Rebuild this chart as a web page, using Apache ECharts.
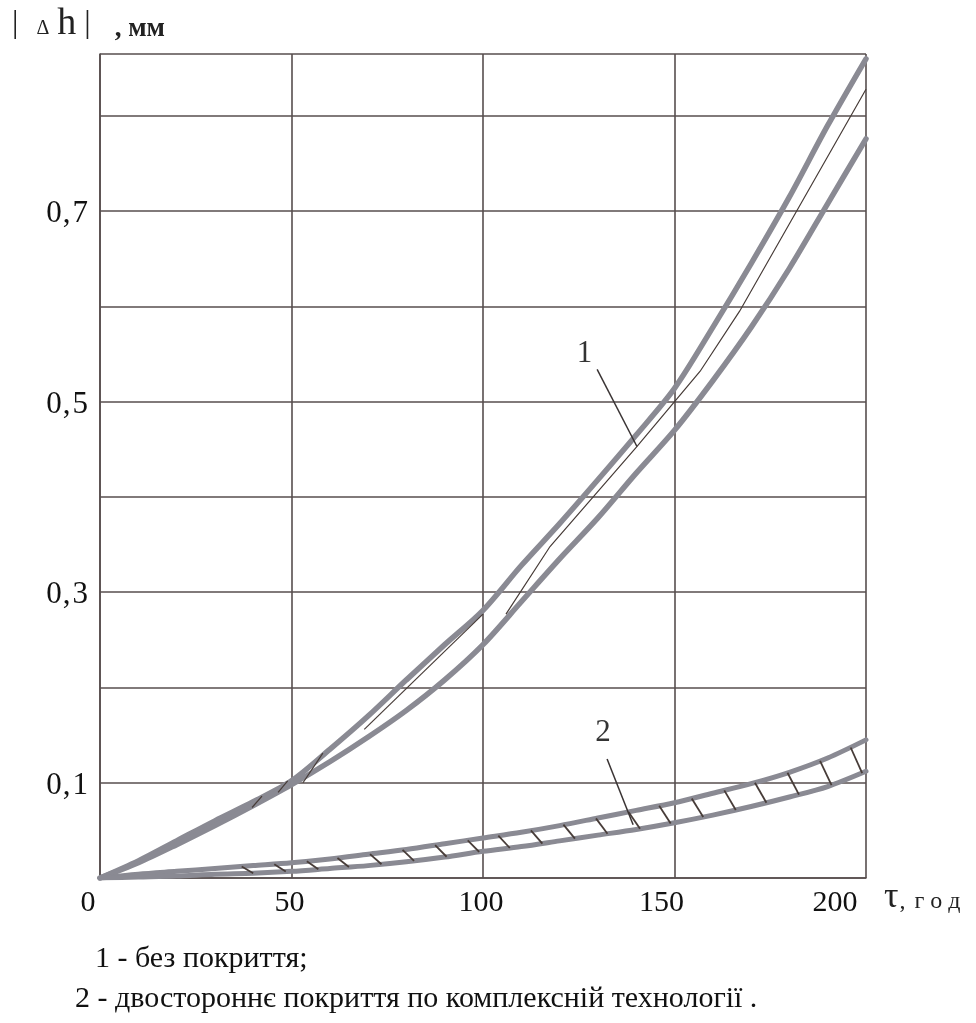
<!DOCTYPE html>
<html>
<head>
<meta charset="utf-8">
<script src="https://cdn.jsdelivr.net/npm/echarts@6/dist/echarts.min.js"></script>
<style>html,body{margin:0;padding:0;background:#fff;}#c{width:976px;height:1023px;}</style>
</head>
<body>
<div id="c"></div>
<script>
// ---- data ----
const tau = [0,10,20,30,40,50,60,70,80,90,100,110,120,130,140,150,160,170,180,190,200];
const curve1Upper = [0,0.018,0.039,0.060,0.080,0.102,0.135,0.170,0.208,0.245,0.281,0.328,0.372,0.418,0.465,0.514,0.578,0.645,0.715,0.790,0.860];
const curve1Lower = [0,0.016,0.035,0.055,0.076,0.098,0.122,0.148,0.176,0.208,0.245,0.290,0.335,0.378,0.425,0.470,0.522,0.578,0.640,0.708,0.776];
const curve2Upper = [0,0.004,0.007,0.010,0.013,0.016,0.020,0.025,0.030,0.036,0.042,0.048,0.055,0.063,0.071,0.079,0.089,0.099,0.111,0.126,0.145];
const curve2Lower = [0,0.001,0.002,0.004,0.005,0.007,0.010,0.013,0.017,0.022,0.028,0.033,0.039,0.045,0.051,0.058,0.066,0.075,0.085,0.096,0.112];
// thin inner line of curve 1 (pieces)
const curve1Thin = [
  [[39.7,0.074],[42.3,0.086]],
  [[46.5,0.090],[49,0.102]],
  [[53,0.100],[58.2,0.131]],
  [[69,0.156],[100,0.277]],
  [[106,0.277],[117.5,0.348],[140,0.452],[156.7,0.532],[167,0.595],[200,0.828]]
];
// hatching of curve 2: [tau1, v1, tau2, v2]
const curve2Hatch = [
  [37,0.012,40,0.005],[45.5,0.0145,48.5,0.0067],[54,0.0176,57,0.0091],[62,0.021,65,0.0115],
  [70.5,0.025,73.5,0.0144],[79,0.0295,82,0.018],[87.5,0.0345,90.5,0.0223],[96,0.0395,99,0.0274],
  [104,0.0445,107,0.0315],[112.5,0.050,115.5,0.036],[121,0.056,124,0.0414],[129.5,0.0626,132.5,0.0465],
  [138,0.0694,141,0.0517],[146,0.0758,149,0.0573],[154.5,0.0835,157.5,0.064],[163,0.092,166,0.0714],
  [171,0.100,174,0.079],[179.5,0.1105,182.5,0.0875],[188,0.123,191,0.0976],[196,0.137,199,0.110]
];
const leader1 = [[129.8,0.534],[140.2,0.453]];
const leader2 = [[132.4,0.125],[139.2,0.056]];
const label1Pos = [126.5,0.55];
const label2Pos = [131.3,0.152];
const yTickLabels = ['0,1','0,3','0,5','0,7'];
const caption1 = '1 - без покриття;';
const caption2 = '2 - двостороннє покриття по комплексній технології .';

// ---- chart ----
const FONT = '"Liberation Serif", "DejaVu Serif", serif';
const GRID = '#574e4e';
const CURVE = '#8a8a93';
const THIN = '#473c38';
const zip = (xs, ys) => xs.map((x, i) => [x, ys[i]]);

const chart = echarts.init(document.getElementById('c'), null, {renderer: 'canvas'});

function thickLine(name, ys, w) {
  return {
    name, type: 'line', data: zip(tau, ys), smooth: 0.3, symbol: 'none',
    lineStyle: {color: CURVE, width: w, cap: 'round'}, z: 3, animation: false
  };
}

chart.setOption({
  animation: false,
  backgroundColor: '#fff',
  grid: {left: 100, right: 110, top: 54, bottom: 145, containLabel: false},
  xAxis: {
    type: 'value', min: 0, max: 200, interval: 50,
    axisLine: {show: true, lineStyle: {color: GRID, width: 1.6}},
    axisTick: {show: false},
    splitLine: {show: true, lineStyle: {color: GRID, width: 1.6}},
    axisLabel: {
      margin: 10, color: '#111', fontFamily: FONT, fontSize: 30,
      formatter: function (v) {
        if (v === 0) return '{l|0}';
        if (v === 50) return '{m|50}';
        if (v === 100) return '{m|100}';
        if (v === 150) return '{n|150}';
        if (v === 200) return '{r|200}';
        return '';
      },
      rich: {
        l: {padding: [0, 24, 0, 0]},
        m: {padding: [0, 4, 0, 0]},
        n: {padding: [0, 26, 0, 0]},
        r: {padding: [0, 62, 0, 0]}
      }
    }
  },
  yAxis: {
    type: 'value', min: 0, max: 0.865, interval: 0.1,
    axisLine: {show: true, lineStyle: {color: GRID, width: 1.6}},
    axisTick: {show: false},
    splitLine: {show: true, lineStyle: {color: GRID, width: 1.6}},
    axisLabel: {
      margin: 12, color: '#111', fontFamily: FONT, fontSize: 31,
      formatter: function (v) {
        const k = Math.round(v * 10);
        if (Math.abs(v * 10 - k) > 1e-6) return '';
        const idx = [1, 3, 5, 7].indexOf(k);
        if (idx < 0) return '';
        const parts = yTickLabels[idx].split(',');
        return '{d|' + parts[0] + '}{c|,}{d|' + parts[1] + '}';
      },
      rich: {
        d: {fontFamily: FONT, fontSize: 31, color: '#111', padding: [6, 0, 0, 0]},
        c: {fontFamily: FONT, fontSize: 31, color: '#111', padding: [6, 2, 0, 1]}
      }
    }
  },
  series: [
    thickLine('curve1Upper', curve1Upper, 5.5),
    thickLine('curve1Lower', curve1Lower, 5.5),
    thickLine('curve2Upper', curve2Upper, 5),
    thickLine('curve2Lower', curve2Lower, 5),
    {
      name: 'curve1Thin', type: 'lines', coordinateSystem: 'cartesian2d', polyline: true,
      data: curve1Thin.map(seg => ({coords: seg})),
      lineStyle: {color: THIN, width: 1.2, opacity: 1}, z: 4, animation: false
    },
    {
      name: 'curve2Hatch', type: 'lines', coordinateSystem: 'cartesian2d',
      data: curve2Hatch.map(h => ({coords: [[h[0], h[1]], [h[2], h[3]]]})),
      lineStyle: {color: THIN, width: 1.8, opacity: 1}, z: 4, animation: false
    },
    {
      name: 'leaders', type: 'lines', coordinateSystem: 'cartesian2d',
      data: [{coords: leader1}, {coords: leader2}],
      lineStyle: {color: '#3a3434', width: 1.5, opacity: 1}, z: 5, animation: false
    },
    {
      name: 'labels', type: 'scatter', symbolSize: 0, z: 6, animation: false,
      data: [
        {value: label1Pos, label: {formatter: '1'}},
        {value: label2Pos, label: {formatter: '2'}}
      ],
      label: {show: true, position: 'inside', color: '#000', fontFamily: FONT, fontSize: 31}
    }
  ],
  graphic: [
    {
      type: 'text', left: 12, top: 5,
      style: {
        text: '{a||}{d|Δ}{h|h}{b||}{u|, мм}',
        rich: {
          a: {fontFamily: FONT, fontSize: 32, fill: '#222', padding: [0, 18, 0, 0]},
          d: {fontFamily: FONT, fontSize: 20, fill: '#222', padding: [10, 8, 0, 0]},
          h: {fontFamily: FONT, fontSize: 38, fill: '#222', padding: [0, 8, 0, 0]},
          b: {fontFamily: FONT, fontSize: 32, fill: '#222', padding: [0, 24, 0, 0]},
          u: {fontFamily: FONT, fontSize: 27, fontWeight: 'bold', fill: '#222', padding: [10, 0, 0, 0]}
        }
      }
    },
    {
      type: 'text', left: 884, top: 880,
      style: {
        text: '{t|τ}{c|,}{g|г}{g|о}{g|д}',
        rich: {
          t: {fontFamily: FONT, fontSize: 36, fill: '#222', padding: [0, 1, 0, 0]},
          c: {fontFamily: FONT, fontSize: 24, fill: '#222', padding: [8, 9, 0, 0]},
          g: {fontFamily: FONT, fontSize: 24, fill: '#222', padding: [8, 6, 0, 0]}
        }
      }
    },
    {
      type: 'text', left: 95, top: 944,
      style: {text: caption1, font: '30px "Liberation Serif"', fill: '#111'}
    },
    {
      type: 'text', left: 75, top: 984,
      style: {text: caption2, font: '30px "Liberation Serif"', fill: '#111'}
    }
  ]
});
</script>
</body>
</html>
